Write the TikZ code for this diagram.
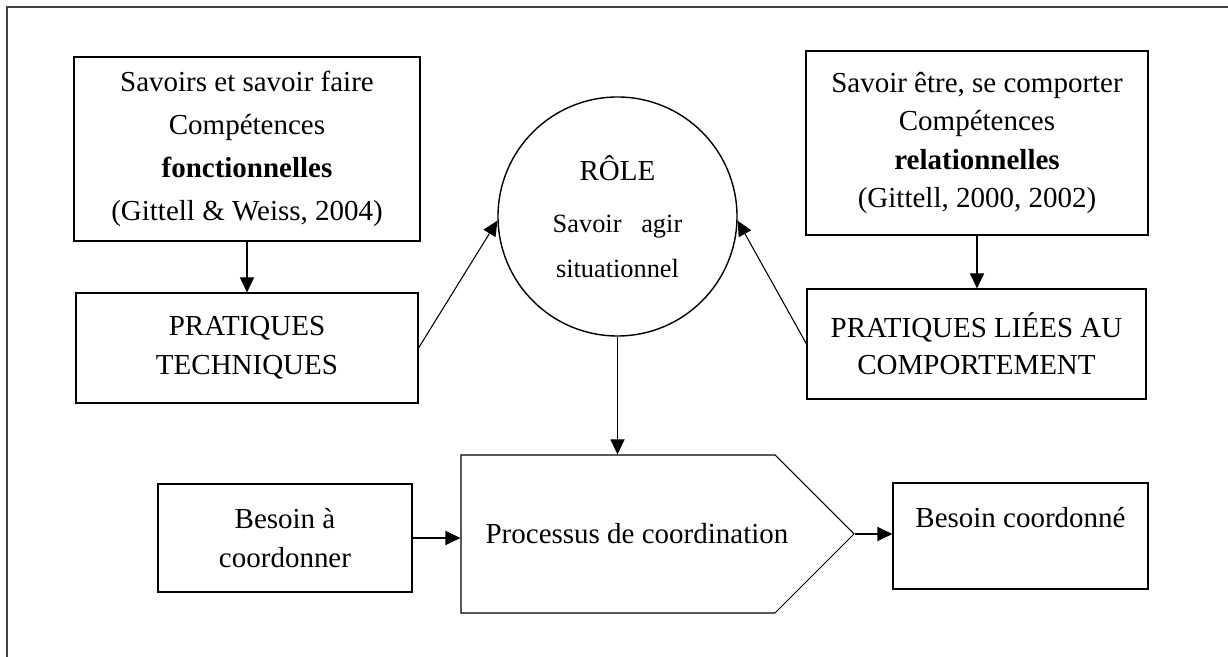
\documentclass[tikz,border=0pt]{standalone}
\usepackage{fontspec}
\setmainfont{Liberation Serif}
\usepackage{tikz}
\usetikzlibrary{arrows.meta, shapes.symbols}

\begin{document}
\begin{tikzpicture}[>={Triangle[length=0.3cm, width=0.28cm]},
    every node/.style={font=\fontsize{16.5}{22}\selectfont, align=center},
    box/.style={draw, line width=0.6pt, rectangle, inner sep=0pt},
    link/.style={->, line width=0.6pt}]
    % Coordinates
    \coordinate (F) at (4.94,10.16);
    \coordinate (T) at (4.94,6.18);
    \coordinate (R) at (12.35,8.81);
    \coordinate (E) at (19.54,10.28);
    \coordinate (C) at (19.53,6.26);
    \coordinate (B) at (5.70,2.38);
    \coordinate (P) at (12.36,2.46);
    \coordinate (D) at (20.41,2.42);

    % Frame
    \useasboundingbox (0,0) rectangle (24.56,13.14);
    \draw[line width=1pt, black!75] (0.14,-1) |- (26,13.0);

    % Top left
    \node[box, minimum width=6.92cm, minimum height=3.68cm, font=\fontsize{16.5}{24.4}\selectfont] (fonct) at (F)
        {Savoirs et savoir faire\\Compétences\\\textbf{fonctionnelles}\\(Gittell \& Weiss, 2004)};
    \node[box, minimum width=6.84cm, minimum height=2.2cm] (tech) at (T) {PRATIQUES\\TECHNIQUES};

    % Role
    \node[draw, circle, line width=0.8pt, minimum size=4.78cm, inner sep=0pt, font=\fontsize{15}{25.5}\selectfont] (role) at (R)
        {{\fontsize{16.5}{20}\selectfont RÔLE}\\[4.5pt]Savoir~~~agir\\situationnel};

    % Top right
    \node[box, minimum width=6.84cm, minimum height=3.68cm] (relat) at (E)
        {Savoir être, se comporter\\Compétences\\\textbf{relationnelles}\\(Gittell, 2000, 2002)};
    \node[box, minimum width=6.78cm, minimum height=2.2cm, font=\fontsize{16.5}{21}\selectfont] (comp) at (C)
        {PRATIQUES LIÉES AU\\COMPORTEMENT};

    % Bottom row
    \node[box, minimum width=5.08cm, minimum height=2.16cm] (besoin) at (B) {Besoin à\\coordonner};
    \node[draw, line width=0.6pt, signal, signal to=east, signal pointer angle=90, minimum width=7.86cm, minimum height=3.16cm, inner sep=0pt] (proc) at (P)
        {\hspace*{0.38cm}Processus de coordination\hspace*{-0.38cm}};
    \node[box, minimum width=5.10cm, minimum height=2.12cm] (coord) at (D) {Besoin coordonné\\[-0.05cm]\mbox{}};

    % Arrows
    \draw[link] (fonct.south) -- (tech.north);
    \draw[link] (relat.south) -- (relat.south |- comp.north);
    \draw[link] (tech.east) -- (role.182);
    \draw[link] (comp.west) -- (role.-2);
    \draw[link] (role.south) -- (role.south |- proc.north);
    \draw[link] (besoin.east) -- (besoin.east -| proc.west);
    \draw[link] (proc.east) -- (proc.east -| coord.west);
\end{tikzpicture}
\end{document}
